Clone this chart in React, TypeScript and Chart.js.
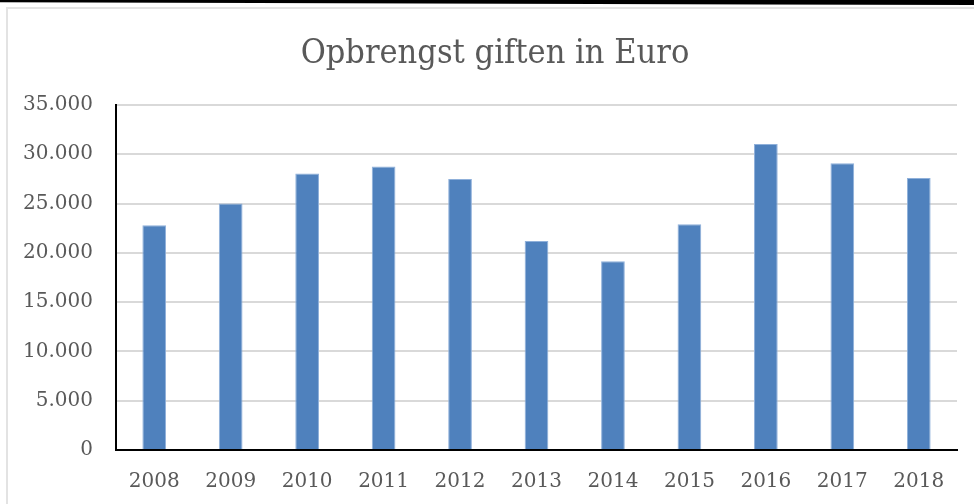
import React, { useEffect, useRef } from "react";
import { Chart, registerables } from "chart.js";

Chart.register(...registerables);

const titleText = "Opbrengst giften in Euro";
const years = ["2008", "2009", "2010", "2011", "2012", "2013", "2014", "2015", "2016", "2017", "2018"];
const revenue = [22800, 25000, 28050, 28750, 27500, 21200, 19150, 22900, 31050, 29100, 27600];
const yMin = 0;
const yMax = 35000;
const yStep = 5000;

const formatNL = (v: number) => String(v).replace(/\B(?=(\d{3})+(?!\d))/g, ".");

const titlePlugin = {
  id: "customTitle",
  afterDraw(chart: any) {
    const ctx = chart.ctx;
    ctx.save();
    ctx.font = '34px "DejaVu Serif Condensed", "DejaVu Serif", serif';
    ctx.fillStyle = "#595959";
    ctx.textAlign = "center";
    ctx.textBaseline = "alphabetic";
    ctx.fillText(titleText, 495, 63);
    ctx.restore();
  },
};

export default function App() {
  const ref = useRef<HTMLCanvasElement | null>(null);

  useEffect(() => {
    if (!ref.current) return;
    const chart = new Chart(ref.current, {
      type: "bar",
      data: {
        labels: years,
        datasets: [
          {
            label: titleText,
            data: revenue,
            backgroundColor: "#4F81BD",
            borderColor: "#8fb0da",
            borderWidth: 1,
            categoryPercentage: 1,
            barPercentage: 0.31,
          },
        ],
      },
      plugins: [titlePlugin],
      options: {
        responsive: false,
        animation: false,
        layout: { padding: { top: 105, left: 0, right: 17, bottom: 0 } },
        plugins: {
          legend: { display: false },
          title: { display: false },
          tooltip: { enabled: false },
        },
        scales: {
          x: {
            afterFit: (scale: any) => {
              scale.height = 54;
            },
            grid: { display: false, drawTicks: false },
            border: { display: true, color: "#000000", width: 2 },
            ticks: {
              color: "#595959",
              font: { family: '"DejaVu Serif", serif', size: 20 },
              padding: 20,
              maxRotation: 0,
            },
          },
          y: {
            min: yMin,
            max: yMax,
            afterFit: (scale: any) => {
              scale.width = 116;
            },
            grid: { color: "#d9d9d9", lineWidth: 2, drawTicks: false },
            border: { display: true, color: "#000000", width: 2 },
            ticks: {
              stepSize: yStep,
              color: "#595959",
              font: { family: '"DejaVu Serif", serif', size: 20 },
              padding: 23,
              callback: (v: any) => formatNL(Number(v)),
            },
          },
        },
      },
    });
    return () => chart.destroy();
  }, []);

  return (
    <div style={{ position: "fixed", left: 0, top: 0, width: 974, height: 504, background: "#ffffff", overflow: "hidden" }}>
      <div style={{ position: "absolute", left: 0, top: 0, width: 974, height: 5, background: "#000000", clipPath: "polygon(0 0, 100% 0, 100% 100%, 0 45%)" }} />
      <div style={{ position: "absolute", left: 6, top: 7, width: 980, height: 510, border: "2px solid #e3e3e3", boxSizing: "border-box" }} />
      <canvas ref={ref} width={974} height={504} style={{ position: "absolute", left: 0, top: 0 }} />
    </div>
  );
}
